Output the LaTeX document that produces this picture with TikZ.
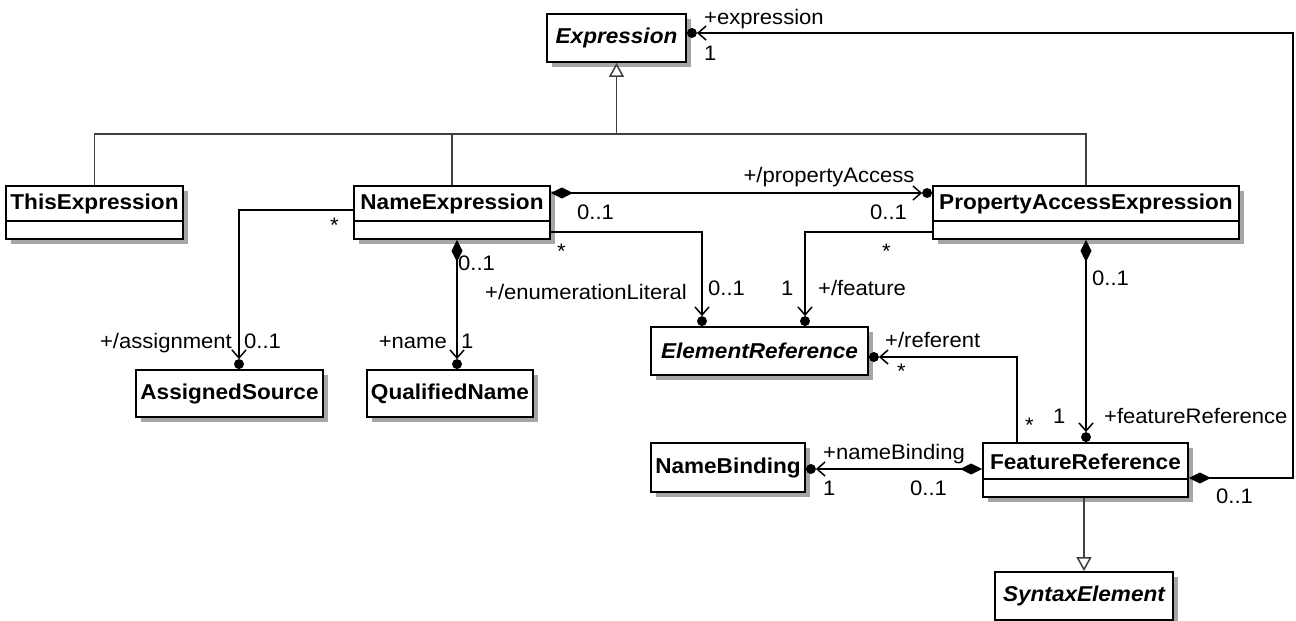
\documentclass[tikz,border=0pt]{standalone}
\usepackage{fontspec}
\setmainfont[FakeStretch=1.05]{Liberation Sans}
\usetikzlibrary{arrows.meta,calc,shadows}
\begin{document}
\begin{tikzpicture}[x=1pt,y=-1pt,
  every node/.style={font=\fontsize{21}{24}\selectfont},
  cls/.style={draw=black, fill=white, line width=1.8pt, inner sep=0pt,
    general shadow={fill=black!35, shadow xshift=5pt, shadow yshift=-5pt}},
  title/.style={inner sep=0pt, font=\fontsize{21.5}{24}\selectfont\bfseries},
  ititle/.style={inner sep=0pt, font=\fontsize{21.5}{24}\selectfont\bfseries\itshape},
  lbl/.style={inner sep=0pt, anchor=base west},
  lblr/.style={inner sep=0pt, anchor=base east},
  assoc/.style={draw=black, line width=1.5pt},
  nav/.style={-{Straight Barb[length=8pt,width=14pt,line width=1.5pt]}},
  compnav/.style={{Diamond[length=22pt,width=11pt]}-{Straight Barb[length=8pt,width=14pt,line width=1.5pt]}},
  gen/.style={draw=black!75, line width=1.5pt, -{Triangle[open,fill=white,length=14pt,width=15pt,line width=1.5pt]}},
  genline/.style={draw=black!75, line width=1.5pt},
  divider/.style={line width=1.8pt},
  dot/.style={fill=black}
]
\useasboundingbox (0,0) rectangle (1296,621);

% ---------- classes ----------
\node[cls, minimum width=139pt, minimum height=48pt, ititle] (ex) at (616.5,38) {Expression};

\node[cls, minimum width=177pt, minimum height=53pt] (th) at (94.5,212.5) {};
\node[title] (thT) at (94.5,204) {ThisExpression};
\draw[divider] ($(th.north west)+(0,36)$) -- ($(th.north east)+(0,36)$);

\node[cls, minimum width=196pt, minimum height=53pt] (ne) at (452,212.5) {};
\node[title] (neT) at (452,204) {NameExpression};
\draw[divider] ($(ne.north west)+(0,36)$) -- ($(ne.north east)+(0,36)$);

\node[cls, minimum width=306pt, minimum height=53pt] (pae) at (1086,212.5) {};
\node[title] (paeT) at (1086,204) {PropertyAccessExpression};
\draw[divider] ($(pae.north west)+(0,36)$) -- ($(pae.north east)+(0,36)$);

\node[cls, minimum width=187pt, minimum height=47pt, title] (as) at (229.5,393.5) {AssignedSource};
\node[cls, minimum width=166pt, minimum height=47pt, title] (qn) at (450,393.5) {QualifiedName};
\node[cls, minimum width=217pt, minimum height=48pt, ititle] (er) at (759.5,351) {ElementReference};
\node[cls, minimum width=154pt, minimum height=49pt, title] (nb) at (728,467.5) {NameBinding};

\node[cls, minimum width=205pt, minimum height=54pt] (fr) at (1085.5,470) {};
\node[title] (frT) at (1085.5,461.5) {FeatureReference};
\draw[divider] ($(fr.north west)+(0,37)$) -- ($(fr.north east)+(0,37)$);

\node[cls, minimum width=178pt, minimum height=48pt, ititle] (se) at (1084,596) {SyntaxElement};

% ---------- generalizations ----------
\coordinate (gj) at (615,134);
\draw[genline] (th.north) -- (th.north |- gj) -- (pae.north |- gj) -- (pae.north);
\draw[genline] (ne.north) -- (ne.north |- gj);
\draw[gen] (ex.south |- gj) -- (ex.south);
\draw[gen] (se.north |- fr.south) -- (se.north);

% ---------- associations ----------
% NameExpression -> AssignedSource
\draw[assoc,nav] ($(ne.west)+(0,-2.5)$) -| ($(as.north)+(9.5,-10)$);
\fill[dot] ($(as.north)+(9.5,-5)$) circle (5pt);
% NameExpression -> QualifiedName
\draw[assoc,compnav] ($(ne.south)+(5,0)$) -- ($(qn.north)+(7,-10)$);
\fill[dot] ($(qn.north)+(7,-5)$) circle (5pt);
% NameExpression -> PropertyAccessExpression
\draw[assoc,compnav] ($(ne.east)+(0,-19.5)$) -- ($(pae.west)+(-10,-19.5)$);
\fill[dot] ($(pae.west)+(-5,-19.5)$) circle (5pt);
% NameExpression -> ElementReference
\draw[assoc,nav] ($(ne.east)+(0,19.5)$) -| ($(er.north)+(-57.5,-10)$);
\fill[dot] ($(er.north)+(-57.5,-5)$) circle (5pt);
% PropertyAccessExpression -> ElementReference
\draw[assoc,nav] ($(pae.west)+(0,19.5)$) -| ($(er.north)+(45.5,-10)$);
\fill[dot] ($(er.north)+(45.5,-5)$) circle (5pt);
% PropertyAccessExpression -> FeatureReference
\draw[assoc,compnav] (pae.south) -- ($(pae.south |- fr.north)+(0,-10)$);
\fill[dot] ($(pae.south |- fr.north)+(0,-5)$) circle (5pt);
% FeatureReference -> ElementReference
\draw[assoc,nav] ($(fr.north west)+(35,0)$) |- ($(er.east)+(10,6)$);
\fill[dot] ($(er.east)+(5,6)$) circle (5pt);
% FeatureReference -> NameBinding
\draw[assoc,compnav] ($(fr.west)+(0,-1)$) -- ($(nb.east)+(10,1.5)$);
\fill[dot] ($(nb.east)+(5,1.5)$) circle (5pt);
% FeatureReference -> Expression
\coordinate (rc) at (1293,33);
\draw[assoc,compnav] ($(fr.east)+(0,8)$) -| (rc) -- ($(ex.east)+(10,-5)$);
\fill[dot] ($(ex.east)+(5,-5)$) circle (5pt);

% ---------- labels ----------
\node[lbl] (l1) at (704,24) {+expression};
\node[lbl] (l2) at (704,60) {1};
\node[inner sep=0pt, anchor=base] (l3) at (829,182) {+/propertyAccess};
\node[lbl] (l4) at (577,219) {0..1};
\node[lbl] (l5) at (870,219) {0..1};
\node[lbl] (l6) at (557,258) {*};
\node[lbl] (l7) at (330,232) {*};
\node[lbl] (l8) at (458,270) {0..1};
\node[lblr] (l9) at (687,299) {+/enumerationLiteral};
\node[lbl] (l10) at (708,295) {0..1};
\node[lbl] (l11) at (781,295) {1};
\node[lbl] (l12) at (818,295) {+/feature};
\node[lbl] (l13) at (882,258) {*};
\node[lbl] (l14) at (1092,285) {0..1};
\node[lblr] (l15) at (232,348) {+/assignment};
\node[lbl] (l16) at (244,348) {0..1};
\node[lblr] (l17) at (447,348) {+name};
\node[lbl] (l18) at (461,348) {1};
\node[lbl] (l19) at (885,347) {+/referent};
\node[lbl] (l20) at (897,378) {*};
\node[lbl] (l21) at (1025,432) {*};
\node[lbl] (l22) at (1053,423) {1};
\node[lbl] (l23) at (1104,423) {+featureReference};
\node[lbl] (l24) at (823,459) {+nameBinding};
\node[lbl] (l25) at (823,495) {1};
\node[lbl] (l26) at (910,495) {0..1};
\node[lbl] (l27) at (1216,503) {0..1};
\end{tikzpicture}
\end{document}
